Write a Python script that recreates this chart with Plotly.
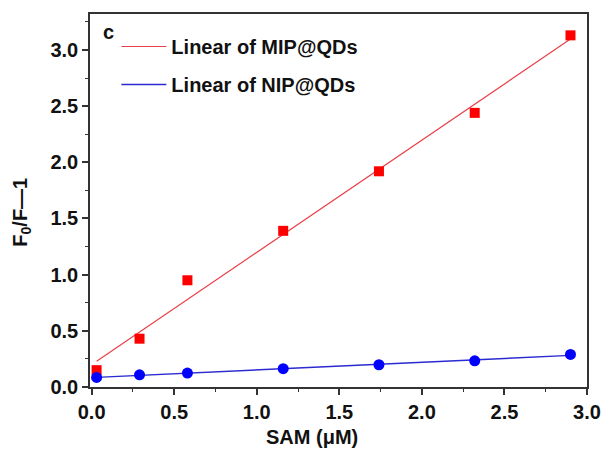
import numpy as np
import plotly.graph_objects as go

# Data
sam_conc = [0.03, 0.29, 0.58, 1.16, 1.74, 2.32, 2.90]
mip_vals = [0.15, 0.43, 0.95, 1.39, 1.92, 2.44, 3.13]
nip_vals = [0.085, 0.108, 0.124, 0.163, 0.198, 0.233, 0.29]
legend_names = ["Linear of MIP@QDs", "Linear of NIP@QDs"]
tick_vals = [0, 0.5, 1.0, 1.5, 2.0, 2.5, 3.0]
tick_text = ["0.0", "0.5", "1.0", "1.5", "2.0", "2.5", "3.0"]

FONT = "Liberation Sans, Arial, sans-serif"
W, H = 613, 452
L, R, T, B = 90, 14, 14, 65
pw, ph = W - L - R, H - T - B


def px_to_paper(px, py):
    return (px - L) / pw, 1 - (py - T) / ph


def fit_line(x, y):
    k, b = np.polyfit(x, y, 1)
    xs = np.array([min(x), max(x)])
    return xs, k * xs + b


fig = go.Figure()

mx, my = fit_line(sam_conc, mip_vals)
nx, ny = fit_line(sam_conc, nip_vals)

fig.add_trace(go.Scatter(x=mx, y=my, mode="lines", name=legend_names[0],
                         line=dict(color="#e8404a", width=1.2), legendgroup="a"))
fig.add_trace(go.Scatter(x=nx, y=ny, mode="lines", name=legend_names[1],
                         line=dict(color="#2a2ad0", width=1.4), legendgroup="b"))
fig.add_trace(go.Scatter(x=sam_conc, y=mip_vals, mode="markers", showlegend=False,
                         marker=dict(symbol="square", size=10, color="#ff0000")))
fig.add_trace(go.Scatter(x=sam_conc, y=nip_vals, mode="markers", showlegend=False,
                         marker=dict(symbol="circle", size=11, color="#0000ff")))

axis_common = dict(
    showline=True, linecolor="#333", linewidth=1.5, mirror=True,
    ticks="outside", ticklen=6, tickwidth=1.5, tickcolor="#333",
    showgrid=False, zeroline=False,
    tickvals=tick_vals, ticktext=tick_text,
    tickfont=dict(family=FONT, size=20, color="#111", weight="bold"),
    minor=dict(ticks="outside", ticklen=3, tickwidth=1.2, tickcolor="#333", dtick=0.25, tick0=0),
)

fig.update_xaxes(range=[-0.01, 3.0], **axis_common)
fig.update_yaxes(range=[0, 3.32], **axis_common)

lx, ly = px_to_paper(117, 27)
ax_, ay_ = px_to_paper(317, 437)
bx_, by_ = px_to_paper(19, 212)
cx_, cy_ = px_to_paper(109, 32)

fig.update_layout(
    width=W, height=H,
    margin=dict(l=L, r=R, t=T, b=B),
    plot_bgcolor="white", paper_bgcolor="white",
    showlegend=True,
    legend=dict(x=lx, y=ly, xanchor="left", yanchor="top",
                bgcolor="rgba(0,0,0,0)", borderwidth=0,
                traceorder="grouped", tracegroupgap=9, itemwidth=45,
                font=dict(family=FONT, size=20, color="#111", weight="bold")),
    annotations=[
        dict(text="<b>c</b>", x=cx_, y=cy_, xref="paper", yref="paper",
             xanchor="center", yanchor="middle", showarrow=False,
             font=dict(family=FONT, size=20, color="#111")),
        dict(text="<b>SAM (μM)</b>", x=ax_, y=ay_, xref="paper", yref="paper",
             xanchor="center", yanchor="middle", showarrow=False,
             font=dict(family=FONT, size=20, color="#111")),
        dict(text="<b>F<sub>0</sub>/F—1</b>", x=bx_, y=by_, xref="paper", yref="paper",
             xanchor="center", yanchor="middle", showarrow=False, textangle=-90,
             font=dict(family=FONT, size=20, color="#111")),
    ],
)

fig.write_html("out.html")
